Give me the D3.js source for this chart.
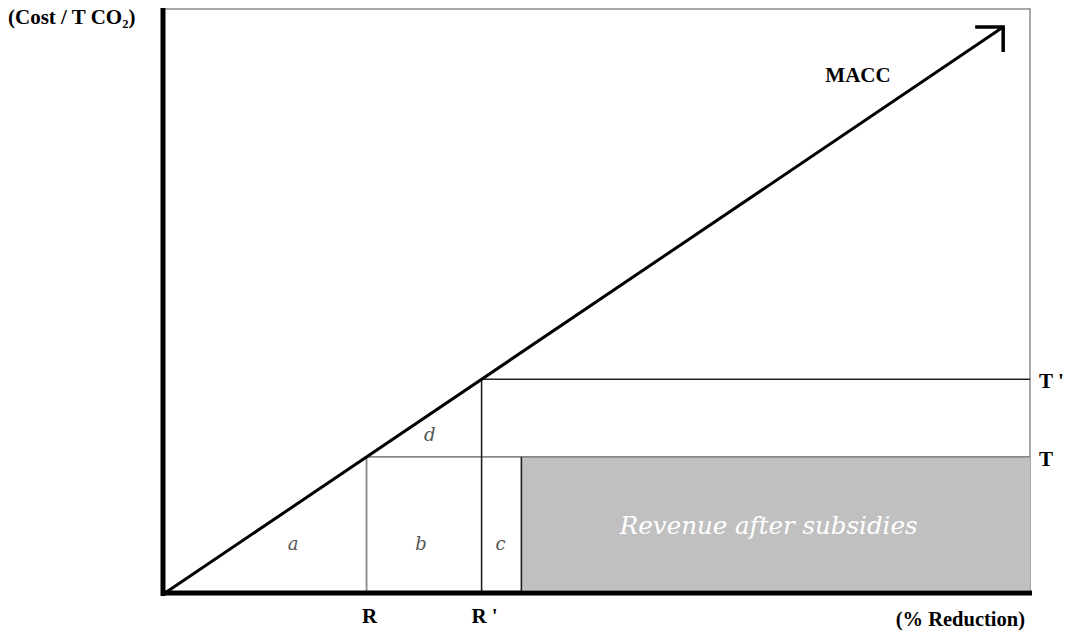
<!DOCTYPE html>
<html>
<head>
<meta charset="utf-8">
<script src="https://cdn.jsdelivr.net/npm/d3@7"></script>
<style>
  body { margin: 0; background: #fff; }
  text { font-family: "Liberation Serif", "Times New Roman", serif; }
</style>
</head>
<body>
<div id="chart"></div>
<script>
// values in chart units (0..100 on both axes)
var maccLine = [[0, 0], [96.9, 96.9]];
var reductions = [{ name: "R", value: 23.3 }, { name: "R '", value: 36.6 }];
var prices = [{ name: "T", value: 23.3 }, { name: "T '", value: 36.6 }];
var revenueStart = 41.2;
var areaLabels = [
  { name: "a", x: 14.8, y: 7.3 },
  { name: "b", x: 29.6, y: 7.3 },
  { name: "c", x: 38.8, y: 7.3 },
  { name: "d", x: 30.6, y: 26.1 }
];

var width = 1078, height = 632;

var svg = d3.select("#chart")
  .append("svg")
    .attr("width", width)
    .attr("height", height)

var x = d3.scaleLinear().domain([0, 100]).range([165, 1030])
var y = d3.scaleLinear().domain([0, 100]).range([593, 9])

var R = reductions[0].value, R2 = reductions[1].value
var T = prices[0].value, T2 = prices[1].value

// gray frame (top and right)
svg.append("path")
  .attr("d", "M" + x(0) + "," + y(100) + "H" + x(100) + "V" + y(0))
  .attr("fill", "none")
  .attr("stroke", "#8a8a8a")
  .attr("stroke-width", 1.5)

// revenue block
svg.append("rect")
  .attr("x", x(revenueStart))
  .attr("y", y(T))
  .attr("width", x(100) - x(revenueStart))
  .attr("height", y(0) - y(T) - 3)
  .attr("fill", "#c0c0c0")

svg.append("text")
  .attr("x", (x(revenueStart) + x(100)) / 2 - 7)
  .attr("y", y(T / 2) + 9)
  .attr("text-anchor", "middle")
  .attr("fill", "#fff")
  .style("font-style", "italic")
  .style("font-family", "'DejaVu Serif', serif")
  .style("font-size", "24.5px")
  .text("Revenue after subsidies")

// T line and R vertical (gray)
svg.append("line")
  .attr("x1", x(R)).attr("x2", x(100))
  .attr("y1", y(T)).attr("y2", y(T))
  .attr("stroke", "#888").attr("stroke-width", 1.8)
svg.append("line")
  .attr("x1", x(R)).attr("x2", x(R))
  .attr("y1", y(T)).attr("y2", y(0))
  .attr("stroke", "#888").attr("stroke-width", 1.8)

// T' line and R' vertical, c edge (dark)
svg.append("line")
  .attr("x1", x(R2)).attr("x2", x(100))
  .attr("y1", y(T2)).attr("y2", y(T2))
  .attr("stroke", "#222").attr("stroke-width", 1.6)
svg.append("line")
  .attr("x1", x(R2)).attr("x2", x(R2))
  .attr("y1", y(T2)).attr("y2", y(0))
  .attr("stroke", "#222").attr("stroke-width", 1.6)
svg.append("line")
  .attr("x1", x(revenueStart)).attr("x2", x(revenueStart))
  .attr("y1", y(T)).attr("y2", y(0))
  .attr("stroke", "#222").attr("stroke-width", 1.6)

// MACC curve with open arrow head
svg.append("path")
  .datum(maccLine)
  .attr("d", d3.line().x(function(d){ return x(d[0]) }).y(function(d){ return y(d[1]) }))
  .attr("stroke", "#000")
  .attr("stroke-width", 3)
  .attr("fill", "none")

var tip = maccLine[1]
svg.append("path")
  .attr("d", "M" + (x(tip[0]) - 28) + "," + y(tip[1]) + "H" + x(tip[0]) + "V" + (y(tip[1]) + 25))
  .attr("stroke", "#000")
  .attr("stroke-width", 3.5)
  .attr("fill", "none")

// axes
svg.append("line")
  .attr("x1", x(0) - 2).attr("x2", x(0) - 2)
  .attr("y1", y(100) - 1).attr("y2", y(0) + 3)
  .attr("stroke", "#000").attr("stroke-width", 5)
svg.append("line")
  .attr("x1", x(0) - 4).attr("x2", x(100) + 2)
  .attr("y1", y(0)).attr("y2", y(0))
  .attr("stroke", "#000").attr("stroke-width", 5)

// area labels
svg.selectAll(".area")
  .data(areaLabels)
  .enter()
  .append("text")
    .attr("x", function(d){ return x(d.x) })
    .attr("y", function(d){ return y(d.y) })
    .attr("text-anchor", "middle")
    .attr("fill", "#555")
    .style("font-style", "italic")
    .style("font-family", "'DejaVu Serif', serif")
    .style("font-size", "18px")
    .text(function(d){ return d.name })

// axis labels
svg.selectAll(".rlab")
  .data(reductions)
  .enter()
  .append("text")
    .attr("x", function(d){ return x(d.value) + 3 })
    .attr("y", 623)
    .attr("text-anchor", "middle")
    .style("font-weight", "bold")
    .style("font-size", "21px")
    .text(function(d){ return d.name })

svg.selectAll(".tlab")
  .data(prices)
  .enter()
  .append("text")
    .attr("x", 1039)
    .attr("y", function(d){ return y(d.value) + 9 })
    .style("font-weight", "bold")
    .style("font-size", "21px")
    .text(function(d){ return d.name })

svg.append("text")
  .attr("x", 858).attr("y", 82)
  .attr("text-anchor", "middle")
  .style("font-weight", "bold")
  .style("font-size", "21px")
  .text("MACC")

svg.append("text")
  .attr("x", 1025).attr("y", 626)
  .attr("text-anchor", "end")
  .style("font-weight", "bold")
  .style("font-size", "20.5px")
  .text("(% Reduction)")

svg.append("text")
  .attr("x", 8).attr("y", 24)
  .style("font-weight", "bold")
  .style("font-size", "21px")
  .text("(Cost / T CO₂)")
</script>
</body>
</html>
